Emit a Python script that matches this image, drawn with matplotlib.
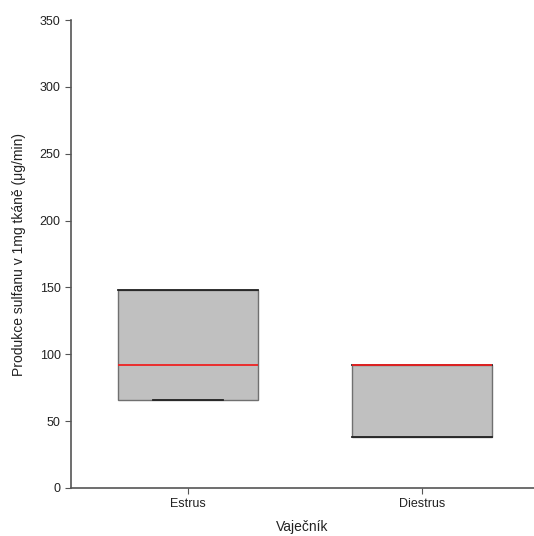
import matplotlib.pyplot as plt
import matplotlib as mpl

mpl.rcParams['font.family'] = ['Liberation Sans', 'DejaVu Sans']

categories = ['Estrus', 'Diestrus']
q1 = [65.5, 38]
median = [92, 92]
q3 = [148, 92]
whis_lo = [65.5, 38]
whis_hi = [148, 92]

stats = []
for i, name in enumerate(categories):
    stats.append({'label': name, 'q1': q1[i], 'med': median[i], 'q3': q3[i],
                  'whislo': whis_lo[i], 'whishi': whis_hi[i], 'fliers': []})

fig = plt.figure(figsize=(5.34, 5.36), dpi=100)
ax = fig.add_axes([0.133, 0.0896, 0.867, 0.873])

width = 0.6
res = ax.bxp(stats, positions=[0, 1], widths=width, patch_artist=True, showfliers=False,
             capwidths=[0.3, width],
             boxprops=dict(facecolor='#c0c0c0', edgecolor='#707070', linewidth=1),
             medianprops=dict(color='#ee2222', linewidth=1.3, zorder=4),
             whiskerprops=dict(color='#333333', linewidth=1),
             capprops=dict(color='#222222', linewidth=1.3))
# top cap of the first box spans the full box width
res['caps'][1].set_xdata([-width / 2, width / 2])

ax.set_xlim(-0.5, 1.48)
ax.set_ylim(0, 350)
ax.set_yticks(range(0, 351, 50))
ax.set_xticks([0, 1])
ax.set_xticklabels(categories)

for s in ['top', 'right']:
    ax.spines[s].set_visible(False)
for s in ['left', 'bottom']:
    ax.spines[s].set_color('#555555')
    ax.spines[s].set_linewidth(1.2)
ax.tick_params(axis='both', colors='#555555', labelcolor='#222222', labelsize=9, length=4)

ax.set_xlabel('Vaječník', fontsize=10, color='#222222', labelpad=7)
ax.set_ylabel('Produkce sulfanu v 1mg tkáně (μg/min)', fontsize=10, color='#222222', labelpad=10)

fig.savefig('out.png', dpi=100)
